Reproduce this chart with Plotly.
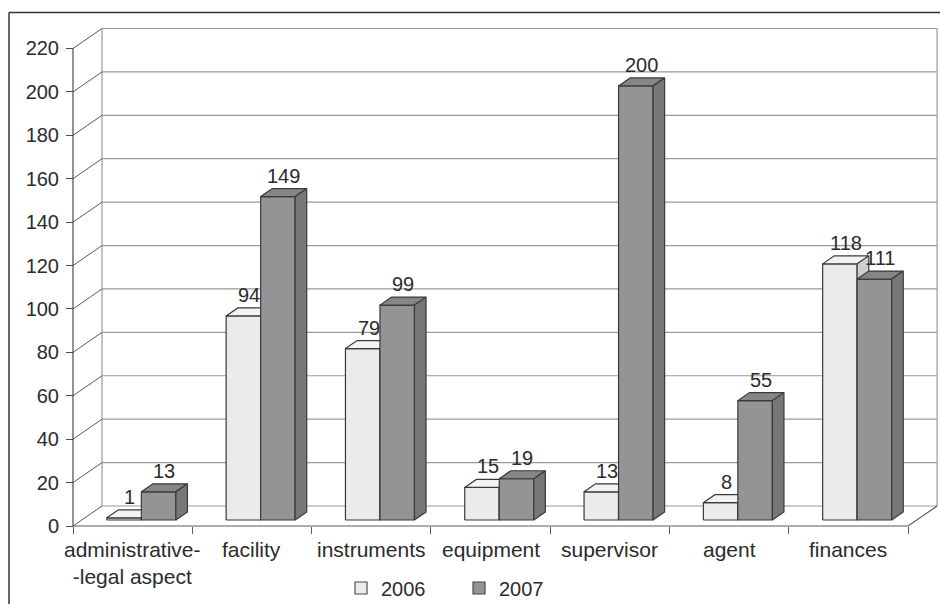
import plotly.graph_objects as go

# ---------------- data ----------------
categories = ["administrative-<br>-legal aspect", "facility", "instruments",
              "equipment", "supervisor", "agent", "finances"]
series_names = ["2006", "2007"]
values_2006 = [1, 94, 79, 15, 13, 8, 118]
values_2007 = [13, 149, 99, 19, 200, 55, 111]
y_ticks = list(range(0, 221, 20))

# ---------------- geometry (pixels) ----------------
W, H = 940, 604
X0 = 73            # px where the category axis starts
Y0 = 526           # px of value 0 on the front plane
PX_CAT = 119.3     # px per category
PX_VAL = 2.1705    # px per value unit
DEPTH_X, DEPTH_Y = 29, 20
PLOT_L, PLOT_R, PLOT_T, PLOT_B = 70, 939, 24, 531

dx = DEPTH_X / PX_CAT
dy = DEPTH_Y / PX_VAL
n = len(categories)
x_range = [(PLOT_L - X0) / PX_CAT, (PLOT_R - X0) / PX_CAT]
y_range = [(Y0 - PLOT_B) / PX_VAL, (Y0 - PLOT_T) / PX_VAL]
bar_w = 34.5 / PX_CAT
d_front, d_back = 0.3, 0.7
ymax = y_ticks[-1]

FONT = "Liberation Sans, Arial, Helvetica, sans-serif"
TXT = "#2b2b2b"
fills = {"2006": ("#ebebed", "#f3f3f4", "#cfcfd2"),
         "2007": ("#949497", "#868689", "#77777a")}
OUTLINE = "#3a3a3a"

fig = go.Figure()


def line_trace(xs, ys, color, width=1.0):
    fig.add_trace(go.Scatter(x=xs, y=ys, mode="lines", hoverinfo="skip",
                             showlegend=False,
                             line=dict(color=color, width=width)))


# back wall horizontal gridlines
gx, gy = [], []
for v in y_ticks:
    gx += [dx, n + dx, None]
    gy += [v + dy, v + dy, None]
line_trace(gx, gy, "#9a9a9a", 1.2)
# back wall verticals
line_trace([dx, dx, None, n + dx, n + dx],
           [dy, ymax + dy, None, dy, ymax + dy], "#9a9a9a", 1.2)
# left wall diagonals
ddx, ddy = [], []
for v in y_ticks:
    ddx += [0, dx, None]
    ddy += [v, v + dy, None]
line_trace(ddx, ddy, "#5a5a5a", 1.0)
# front vertical axis line
line_trace([0, 0], [0, ymax], "#4a4a4a", 1.2)
# floor front edge and right diagonal
line_trace([0, n, n + dx], [0, 0, dy], "#5a5a5a", 1.2)

# ---------------- 3D bars ----------------
bd_x = (d_back - d_front) * dx
bd_y = (d_back - d_front) * dy
label_x, label_y, label_t = [], [], []
for i in range(n):
    pair_center = i + 0.5 + d_front * dx
    for s, vals in enumerate([values_2006, values_2007]):
        name = series_names[s]
        v = vals[i]
        xl = pair_center - bar_w + s * bar_w
        xr_ = xl + bar_w
        yb = d_front * dy
        yt = v + d_front * dy
        front_c, top_c, side_c = fills[name]
        # front face
        fig.add_trace(go.Scatter(
            x=[xl, xr_, xr_, xl, xl], y=[yb, yb, yt, yt, yb],
            mode="lines", fill="toself", fillcolor=front_c,
            line=dict(color=OUTLINE, width=1.2), hoverinfo="skip",
            showlegend=False))
        # top face
        fig.add_trace(go.Scatter(
            x=[xl, xr_, xr_ + bd_x, xl + bd_x, xl],
            y=[yt, yt, yt + bd_y, yt + bd_y, yt],
            mode="lines", fill="toself", fillcolor=top_c,
            line=dict(color=OUTLINE, width=1.2), hoverinfo="skip",
            showlegend=False))
        # side face
        fig.add_trace(go.Scatter(
            x=[xr_, xr_ + bd_x, xr_ + bd_x, xr_, xr_],
            y=[yb, yb + bd_y, yt + bd_y, yt, yb],
            mode="lines", fill="toself", fillcolor=side_c,
            line=dict(color=OUTLINE, width=1.2), hoverinfo="skip",
            showlegend=False))
        label_x.append((xl + xr_) / 2 + bd_x / 2)
        label_y.append(v + d_back * dy)
        label_t.append(str(v))

# legend entries
for name in series_names:
    fig.add_trace(go.Scatter(
        x=[None], y=[None], mode="markers", name=name,
        marker=dict(symbol="square", size=12, color=fills[name][0],
                    line=dict(color="#4a4a4a", width=1.2))))

annotations = []
for x, y, t in zip(label_x, label_y, label_t):
    annotations.append(dict(x=x, y=y, text=t, showarrow=False,
                            xanchor="center", yanchor="bottom",
                            font=dict(family=FONT, size=20, color=TXT)))
plot_h = PLOT_B - PLOT_T
for i, c in enumerate(categories):
    annotations.append(dict(x=i + 0.5, y=(PLOT_B - 536) / plot_h, yref="paper",
                            text=c, showarrow=False, xanchor="center",
                            yanchor="top", align="center",
                            font=dict(family=FONT, size=21, color=TXT)))

plot_w = PLOT_R - PLOT_L
shapes = [
    dict(type="line", xref="paper", yref="paper",
         x0=(9 - PLOT_L) / plot_w, x1=(W + 5 - PLOT_L) / plot_w,
         y0=(PLOT_B - 12.5) / plot_h, y1=(PLOT_B - 12.5) / plot_h,
         line=dict(color="#333333", width=1.5)),
    dict(type="line", xref="paper", yref="paper",
         x0=(9 - PLOT_L) / plot_w, x1=(9 - PLOT_L) / plot_w,
         y0=(PLOT_B - 12.5) / plot_h, y1=(PLOT_B - H - 5) / plot_h,
         line=dict(color="#333333", width=1.5)),
]

fig.update_layout(
    width=W, height=H,
    margin=dict(l=PLOT_L, r=W - PLOT_R, t=PLOT_T, b=H - PLOT_B, pad=0,
                autoexpand=False),
    paper_bgcolor="white", plot_bgcolor="white",
    font=dict(family=FONT, size=20, color=TXT),
    xaxis=dict(range=x_range, tickvals=list(range(n + 1)),
               ticktext=[""] * (n + 1), ticks="outside", ticklen=7,
               tickcolor="#5a5a5a", tickwidth=1.2, showgrid=False,
               zeroline=False, showline=False, anchor="free",
               position=(PLOT_B - Y0) / plot_h, fixedrange=True,
               automargin=False),
    yaxis=dict(range=y_range, tickvals=y_ticks, ticks="outside", ticklen=7,
               tickcolor="#4a4a4a", tickwidth=1.2, showgrid=False,
               zeroline=False, showline=False, anchor="free",
               position=(X0 - PLOT_L) / plot_w,
               tickfont=dict(family=FONT, size=20, color=TXT),
               ticklabelstandoff=3,
               fixedrange=True, automargin=False),
    showlegend=True,
    legend=dict(orientation="h", x=(341 - PLOT_L) / plot_w, xanchor="left",
                y=(PLOT_B - 588) / plot_h, yanchor="middle",
                font=dict(family=FONT, size=20, color=TXT),
                entrywidth=73, bgcolor="rgba(0,0,0,0)"),
    annotations=annotations,
    shapes=shapes,
)

fig.write_html("out.html")
